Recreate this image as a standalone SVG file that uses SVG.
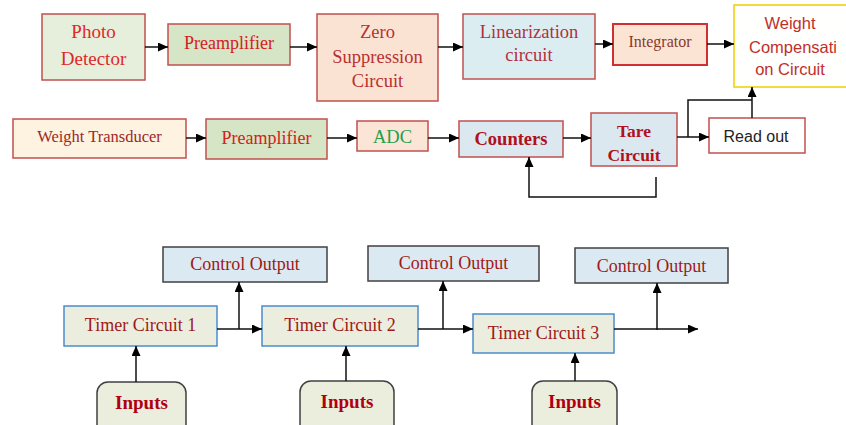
<svg xmlns="http://www.w3.org/2000/svg" width="846" height="425" viewBox="0 0 846 425">
<style>
.serif{font-family:"Liberation Serif","Times New Roman",serif;text-anchor:middle}
.sans{font-family:"Liberation Sans",Arial,sans-serif;text-anchor:middle}
.b{font-weight:bold}
.rb{stroke:#c0504d;stroke-width:1.5}
.cb{stroke:#404040;stroke-width:1.5}
.tb{stroke:#4a8ccc;stroke-width:1.5}
.ln{fill:none;stroke:#111;stroke-width:1.5}
</style>
<defs>
<marker id="ah" markerUnits="userSpaceOnUse" markerWidth="10" markerHeight="9" refX="10" refY="4.5" orient="auto">
<path d="M0,0 L10,4.5 L0,9 z" fill="#000"/>
</marker>
</defs>
<rect width="846" height="425" fill="#fff"/>

<g id="photo-detector">
<rect x="42" y="14" width="103" height="66" fill="#e6efdb" class="rb"/>
<text class="serif" x="93.5" y="38" font-size="19" fill="#e02828">Photo</text>
<text class="serif" x="93.5" y="65" font-size="19" fill="#e02828">Detector</text>
</g>
<g id="preamplifier-1">
<rect x="168" y="24" width="122" height="41" fill="#d5e5c5" class="rb"/>
<text class="serif" x="229" y="49" font-size="18" fill="#d42020">Preamplifier</text>
</g>
<g id="zero-suppression">
<rect x="317" y="14" width="121" height="87" fill="#fbe3d4" class="rb"/>
<text class="serif" x="377.5" y="38" font-size="18.5" fill="#b83030">Zero</text>
<text class="serif" x="377.5" y="63" font-size="18.5" fill="#b83030">Suppression</text>
<text class="serif" x="377.5" y="87" font-size="18.5" fill="#b83030">Circuit</text>
</g>
<g id="linearization">
<rect x="463" y="14" width="132" height="65" fill="#dcedf2" class="rb"/>
<text class="serif" x="529" y="38" font-size="18.5" fill="#b03040">Linearization</text>
<text class="serif" x="529" y="61" font-size="18.5" fill="#b03040">circuit</text>
</g>
<g id="integrator">
<rect x="613" y="24" width="94" height="41" fill="#fce4d4" stroke="#d03030" stroke-width="2"/>
<text class="serif" x="660" y="47" font-size="16" fill="#8b3a2a">Integrator</text>
</g>
<g id="weight-compensation">
<rect x="734" y="5" width="116" height="82" fill="#fffffe" stroke="#f0d000" stroke-width="1.5"/>
<text class="sans" x="790" y="29" font-size="16.5" fill="#c0302a">Weight</text>
<text class="sans" x="793" y="53" font-size="16.5" fill="#c0302a">Compensati</text>
<text class="sans" x="790" y="75" font-size="16.5" fill="#c0302a">on Circuit</text>
</g>

<g id="weight-transducer">
<rect x="13" y="119" width="173" height="39" fill="#fdf3e0" class="rb"/>
<text class="serif" x="99.5" y="142" font-size="16.5" fill="#a02828">Weight Transducer</text>
</g>
<g id="preamplifier-2">
<rect x="206" y="119" width="121" height="40" fill="#d5e5c5" class="rb"/>
<text class="serif" x="266.5" y="144" font-size="18" fill="#d42020">Preamplifier</text>
</g>
<g id="adc">
<rect x="357" y="121" width="71" height="30" fill="#fbe5d6" class="rb"/>
<text class="serif" x="392.5" y="143" font-size="18.5" fill="#22a04a">ADC</text>
</g>
<g id="counters">
<rect x="459" y="121" width="104" height="36" fill="#dce8f0" class="rb"/>
<text class="serif b" x="511" y="145" font-size="18.5" fill="#b01020">Counters</text>
</g>
<g id="tare-circuit">
<rect x="591" y="113" width="86" height="53" fill="#dce8f0" class="rb"/>
<text class="serif b" x="634" y="137" font-size="17.5" fill="#b01020">Tare</text>
<text class="serif b" x="634" y="161" font-size="17.5" fill="#b01020">Circuit</text>
</g>
<g id="read-out">
<rect x="709" y="118" width="96" height="35" fill="#fff" class="rb"/>
<text class="sans" x="756" y="142" font-size="16" fill="#222">Read out</text>
</g>

<g id="control-output-1">
<rect x="163" y="247" width="164" height="35" fill="#dae9f2" class="cb"/>
<text class="serif" x="245" y="270" font-size="18" fill="#a01818">Control Output</text>
</g>
<g id="control-output-2">
<rect x="368" y="246" width="171" height="35" fill="#dae9f2" class="cb"/>
<text class="serif" x="453.5" y="269" font-size="18" fill="#a01818">Control Output</text>
</g>
<g id="control-output-3">
<rect x="575" y="248" width="153" height="35" fill="#dae9f2" class="cb"/>
<text class="serif" x="651.5" y="272" font-size="18" fill="#a01818">Control Output</text>
</g>
<g id="timer-1">
<rect x="64" y="306" width="153" height="40" fill="#ebeedf" class="tb"/>
<text class="serif" x="140.5" y="331" font-size="18" fill="#a01818">Timer Circuit 1</text>
</g>
<g id="timer-2">
<rect x="262" y="306" width="156" height="40" fill="#ebeedf" class="tb"/>
<text class="serif" x="340" y="331" font-size="18" fill="#a01818">Timer Circuit 2</text>
</g>
<g id="timer-3">
<rect x="473" y="314" width="141" height="39" fill="#ebeedf" class="tb"/>
<text class="serif" x="543.5" y="339" font-size="18" fill="#a01818">Timer Circuit 3</text>
</g>
<g id="inputs-1">
<rect x="97" y="382" width="89" height="56" rx="11" fill="#ebeedd" class="cb"/>
<text class="serif b" x="141.5" y="409" font-size="19" fill="#b00010">Inputs</text>
</g>
<g id="inputs-2">
<rect x="300" y="381" width="94" height="57" rx="11" fill="#ebeedd" class="cb"/>
<text class="serif b" x="347" y="408" font-size="19" fill="#b00010">Inputs</text>
</g>
<g id="inputs-3">
<rect x="532" y="381" width="85" height="57" rx="11" fill="#ebeedd" class="cb"/>
<text class="serif b" x="574.5" y="408" font-size="19" fill="#b00010">Inputs</text>
</g>

<g id="connectors">
<line class="ln" x1="145" y1="47" x2="168" y2="47" marker-end="url(#ah)"/>
<line class="ln" x1="290" y1="47" x2="317" y2="47" marker-end="url(#ah)"/>
<line class="ln" x1="438" y1="47" x2="463" y2="47" marker-end="url(#ah)"/>
<line class="ln" x1="595" y1="44" x2="613" y2="44" marker-end="url(#ah)"/>
<line class="ln" x1="707" y1="44" x2="734" y2="44" marker-end="url(#ah)"/>
<line class="ln" x1="186" y1="138" x2="206" y2="138" marker-end="url(#ah)"/>
<line class="ln" x1="327" y1="138" x2="357" y2="138" marker-end="url(#ah)"/>
<line class="ln" x1="428" y1="138" x2="459" y2="138" marker-end="url(#ah)"/>
<line class="ln" x1="563" y1="138" x2="591" y2="138" marker-end="url(#ah)"/>
<line class="ln" x1="677" y1="137" x2="709" y2="137" marker-end="url(#ah)"/>
<polyline class="ln" points="688,137 688,100 752,100"/>
<line class="ln" x1="752" y1="118" x2="752" y2="87" marker-end="url(#ah)"/>
<polyline class="ln" stroke="#333" points="656,177 656,197 529,197 529,157" marker-end="url(#ah)"/>
<line class="ln" x1="217" y1="329" x2="262" y2="329" marker-end="url(#ah)"/>
<line class="ln" x1="239" y1="329" x2="239" y2="282" marker-end="url(#ah)"/>
<line class="ln" x1="418" y1="329" x2="473" y2="329" marker-end="url(#ah)"/>
<line class="ln" x1="443" y1="329" x2="443" y2="281" marker-end="url(#ah)"/>
<line class="ln" x1="614" y1="329" x2="698" y2="329" marker-end="url(#ah)"/>
<line class="ln" x1="657" y1="330" x2="657" y2="283" marker-end="url(#ah)"/>
<line class="ln" x1="136" y1="382" x2="136" y2="346" marker-end="url(#ah)"/>
<line class="ln" x1="346" y1="381" x2="346" y2="346" marker-end="url(#ah)"/>
<line class="ln" x1="575" y1="381" x2="575" y2="353" marker-end="url(#ah)"/>
</g>
</svg>
